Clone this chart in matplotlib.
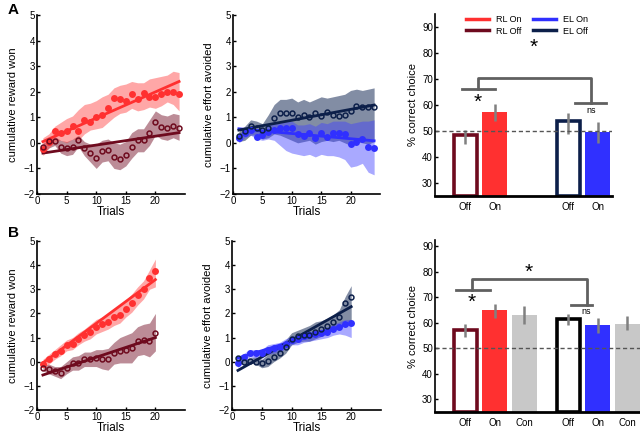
import numpy as np
import matplotlib.pyplot as plt

plt.rcParams['font.family'] = ['Liberation Sans', 'DejaVu Sans']

# colours
c_rl_on = '#ff3030'
c_rl_off = '#6e0a1e'
c_el_on = '#3030ff'
c_el_off = '#0c1f4a'
c_con = '#c8c8c8'
c_err = '#808080'

# ---------------- data: panel A (24 trials) ----------------
trials_a = list(range(1, 25))
a_rl_on = [-0.25, 0.05, 0.45, 0.4, 0.45, 0.65, 0.45, 0.9, 0.83, 1.0, 1.1, 1.37,
           1.75, 1.7, 1.63, 1.9, 1.72, 1.95, 1.8, 1.8, 1.9, 1.97, 2.0, 1.9]
a_rl_on_hi = [0.2, 0.35, 0.65, 0.8, 0.95, 1.05, 1.3, 1.5, 1.55, 1.65, 1.8, 1.9,
              2.15, 2.25, 2.3, 2.4, 2.35, 2.35, 2.5, 2.55, 2.6, 2.65, 2.8, 2.75]
a_rl_on_lo = [-0.5, -0.2, 0.05, 0.1, 0.0, 0.15, 0.1, 0.35, 0.5, 0.55, 0.6, 0.8,
              1.0, 1.15, 1.2, 1.35, 1.25, 1.3, 1.4, 1.35, 1.45, 1.6, 1.5, 1.25]
a_rl_off = [-0.17, 0.07, 0.07, -0.17, -0.2, -0.15, 0.1, -0.2, -0.38, -0.6, -0.33, -0.27,
            -0.55, -0.62, -0.47, -0.17, 0.1, 0.1, 0.37, 0.8, 0.63, 0.57, 0.67, 0.6]
a_rl_off_hi = [0.0, 0.1, 0.25, 0.1, 0.05, 0.15, 0.3, 0.05, -0.05, -0.05, 0.1, 0.15,
               0.0, -0.05, 0.05, 0.4, 0.55, 0.55, 0.9, 1.25, 1.1, 1.05, 1.15, 1.1]
a_rl_off_lo = [-0.4, -0.2, -0.1, -0.4, -0.5, -0.45, -0.15, -0.5, -0.75, -1.0, -0.75, -0.7,
               -1.0, -1.05, -0.9, -0.6, -0.35, -0.35, -0.1, 0.3, 0.15, 0.1, 0.2, 0.1]
a_rl_on_fit = [0.05, 2.4]
a_rl_off_fit = [-0.4, 0.4]

a_el_on = [0.18, 0.37, 0.5, 0.24, 0.3, 0.44, 0.5, 0.57, 0.57, 0.57, 0.33, 0.27,
           0.37, 0.18, 0.4, 0.24, 0.4, 0.37, 0.35, -0.04, 0.05, 0.14, -0.15, -0.19]
a_el_on_hi = [0.35, 0.55, 0.65, 0.55, 0.5, 0.7, 0.75, 0.8, 0.85, 0.85, 0.7, 0.7,
              0.75, 0.65, 0.8, 0.75, 0.85, 0.85, 0.85, 0.75, 0.8, 0.85, 0.85, 0.9]
a_el_on_lo = [0.0, 0.2, 0.3, 0.15, 0.1, 0.15, 0.1, -0.1, -0.3, -0.4, -0.45, -0.5,
              -0.45, -0.55, -0.45, -0.5, -0.5, -0.55, -0.65, -0.95, -0.9, -0.8, -1.15, -1.25]
a_el_off = [0.25, 0.45, 0.65, 0.6, 0.5, 0.6, 0.97, 1.18, 1.17, 1.17, 1.03, 1.08,
            1.0, 1.15, 1.05, 1.2, 1.1, 1.05, 1.1, 1.25, 1.45, 1.4, 1.42, 1.42]
a_el_off_hi = [0.45, 0.65, 0.9, 0.85, 0.75, 1.1, 1.5, 1.7, 1.7, 1.75, 1.6, 1.7,
               1.6, 1.7, 1.8, 1.75, 1.8, 1.85, 1.9, 2.05, 2.1, 2.05, 2.1, 2.15]
a_el_off_lo = [0.05, 0.1, 0.3, 0.3, 0.15, 0.2, 0.35, 0.3, 0.2, 0.1, 0.0, 0.05,
               0.1, -0.05, 0.05, 0.1, 0.05, 0.1, 0.0, -0.1, 0.05, 0.0, -0.05, 0.05]
a_el_on_fit = [0.55, 0.08]
a_el_off_fit = [0.5, 1.48]

# ---------------- data: panel B (20 trials) ----------------
trials_b = list(range(1, 21))
b_rl_on = [-0.1, 0.1, 0.3, 0.45, 0.7, 0.75, 0.95, 1.1, 1.25, 1.45, 1.55, 1.65,
           1.85, 1.95, 2.2, 2.45, 2.75, 3.0, 3.45, 3.75]
b_rl_on_hi = [0.1, 0.3, 0.5, 0.7, 0.9, 1.0, 1.2, 1.35, 1.55, 1.75, 1.85, 1.95,
              2.15, 2.3, 2.55, 2.8, 3.1, 3.35, 3.8, 4.25]
b_rl_on_lo = [-0.25, -0.1, 0.1, 0.25, 0.45, 0.5, 0.7, 0.85, 0.95, 1.15, 1.25, 1.35,
              1.5, 1.6, 1.85, 2.05, 2.35, 2.6, 3.0, 3.1]
b_rl_off = [-0.25, -0.3, -0.4, -0.45, -0.25, -0.05, -0.05, 0.1, 0.1, 0.15, 0.1, 0.1,
            0.35, 0.45, 0.5, 0.55, 0.85, 0.9, 0.85, 1.2]
b_rl_off_hi = [-0.15, -0.1, -0.2, -0.2, 0.0, 0.2, 0.25, 0.4, 0.4, 0.5, 0.5, 0.55,
               0.8, 1.0, 1.1, 1.2, 1.45, 1.55, 1.6, 2.0]
b_rl_off_lo = [-0.35, -0.5, -0.6, -0.7, -0.5, -0.35, -0.35, -0.2, -0.2, -0.2, -0.3, -0.35,
               -0.1, -0.05, -0.05, -0.05, 0.25, 0.3, 0.2, 0.45]
b_rl_on_fit = [-0.05, 3.4]
b_rl_off_fit = [-0.55, 1.0]

b_el_on = [-0.05, 0.2, 0.35, 0.35, 0.35, 0.5, 0.55, 0.6, 0.75, 0.9, 0.95, 1.05,
           1.1, 1.15, 1.2, 1.25, 1.35, 1.45, 1.55, 1.6]
b_el_on_hi = [0.15, 0.35, 0.5, 0.5, 0.5, 0.7, 0.75, 0.8, 0.95, 1.05, 1.1, 1.2,
              1.25, 1.3, 1.35, 1.45, 1.55, 1.65, 1.75, 1.75]
b_el_on_lo = [-0.25, 0.05, 0.2, 0.15, 0.15, 0.3, 0.35, 0.4, 0.55, 0.7, 0.7, 0.8,
              0.85, 0.9, 0.95, 1.0, 1.1, 1.15, 1.1, 1.0]
b_el_off = [0.15, 0.0, 0.05, 0.0, -0.05, 0.05, 0.2, 0.35, 0.6, 0.95, 1.05, 1.1,
            1.1, 1.25, 1.35, 1.5, 1.65, 1.85, 2.45, 2.7]
b_el_off_hi = [0.2, 0.1, 0.15, 0.2, 0.1, 0.3, 0.5, 0.7, 0.9, 1.2, 1.3, 1.4,
               1.5, 1.65, 1.7, 1.8, 1.95, 2.15, 2.7, 3.15]
b_el_off_lo = [0.0, -0.1, -0.05, -0.1, -0.25, -0.2, 0.0, 0.15, 0.35, 0.7, 0.8, 0.85,
               0.85, 0.95, 1.05, 1.15, 1.35, 1.5, 1.7, 1.6]
b_el_on_fit = [0.15, 1.6]
b_el_off_fit = [-0.36, 2.28]

# ---------------- bar data ----------------
bar_pos_a = [0, 1, 3.5, 4.5]
bar_val_a = [48.3, 57.2, 53.8, 49.5]
bar_lo_a = [45.0, 54.0, 49.0, 45.5]
bar_hi_a = [50.5, 60.5, 57.0, 53.5]
bar_lab_a = ['Off', 'On', 'Off', 'On']

bar_pos_b = [0, 1, 2, 3.5, 4.5, 5.5]
bar_val_b = [57.0, 65.0, 63.0, 61.5, 59.0, 59.5]
bar_lo_b = [54.5, 62.0, 59.5, 59.0, 56.0, 57.0]
bar_hi_b = [59.5, 67.5, 66.5, 63.5, 62.0, 62.5]
bar_lab_b = ['Off', 'On', 'Con', 'Off', 'On', 'Con']

W, H = 640, 434
fig = plt.figure(figsize=(6.4, 4.34), dpi=100)


def px_axes(left, top, right, bottom):
    return fig.add_axes([left / W, 1 - bottom / H, (right - left) / W, (bottom - top) / H])


def style(ax):
    ax.spines['top'].set_visible(False)
    ax.spines['right'].set_visible(False)
    for s in ('left', 'bottom'):
        ax.spines[s].set_linewidth(1.2)
    ax.tick_params(direction='in', length=2.5, width=1, labelsize=7, pad=1.5)


def line_panel(ax, x, on, on_hi, on_lo, on_fit, off, off_hi, off_lo, off_fit,
               c_on, c_off, band_on, band_off, a_on, a_off, ylab):
    ax.fill_between(x, off_lo, off_hi, color=band_off, alpha=a_off, lw=0)
    ax.fill_between(x, on_lo, on_hi, color=band_on, alpha=a_on, lw=0)
    ax.plot([x[0], x[-1]], on_fit, color=c_on, lw=2)
    ax.plot([x[0], x[-1]], off_fit, color=c_off, lw=2)
    ax.plot(x, on, 'o', color=c_on, ms=5, mec='none')
    ax.plot(x, off, 'o', mfc='none', mec=c_off, ms=3.5, mew=1.1)
    ax.set_xlim(0, 25)
    ax.set_ylim(-2, 5)
    ax.set_xticks([0, 5, 10, 15, 20])
    ax.set_yticks(range(-2, 6))
    ax.set_xlabel('Trials', fontsize=8.5, labelpad=0)
    ax.set_ylabel(ylab, fontsize=8, labelpad=4)
    style(ax)


# panel A line plots
ax1 = px_axes(37, 15, 185, 194)
line_panel(ax1, trials_a, a_rl_on, a_rl_on_hi, a_rl_on_lo, a_rl_on_fit,
           a_rl_off, a_rl_off_hi, a_rl_off_lo, a_rl_off_fit,
           c_rl_on, c_rl_off, '#ff5050', '#7a1a30', 0.5, 0.5, 'cumulative reward won')
ax2 = px_axes(233, 15, 380, 194)
line_panel(ax2, trials_a, a_el_on, a_el_on_hi, a_el_on_lo, a_el_on_fit,
           a_el_off, a_el_off_hi, a_el_off_lo, a_el_off_fit,
           c_el_on, c_el_off, '#4040ff', '#1c2f5a', 0.45, 0.55, 'cumulative effort avoided')

# panel B line plots
ax4 = px_axes(37, 241, 185, 410)
line_panel(ax4, trials_b, b_rl_on, b_rl_on_hi, b_rl_on_lo, b_rl_on_fit,
           b_rl_off, b_rl_off_hi, b_rl_off_lo, b_rl_off_fit,
           c_rl_on, c_rl_off, '#ff5050', '#7a1a30', 0.5, 0.5, 'cumulative reward won')
ax5 = px_axes(232, 241, 381, 410)
line_panel(ax5, trials_b, b_el_on, b_el_on_hi, b_el_on_lo, b_el_on_fit,
           b_el_off, b_el_off_hi, b_el_off_lo, b_el_off_fit,
           c_el_on, c_el_off, '#4040ff', '#1c2f5a', 0.45, 0.55, 'cumulative effort avoided')


def bar_panel(ax, pos, vals, lo, hi, labs, colors, filled, ytop):
    for p, v, c, f in zip(pos, vals, colors, filled):
        if f:
            ax.bar(p, v - 25, bottom=25, width=0.85, color=c, lw=0)
        else:
            ax.bar(p, v - 25, bottom=25, width=0.78, facecolor='white', edgecolor=c, lw=2.6)
    ax.vlines(pos, lo, hi, color=c_err, lw=1.8)
    ax.axhline(50, color='#555555', ls='--', lw=1, dashes=(3, 2))
    ax.set_ylim(25, ytop)
    ax.set_yticks(range(30, 100, 10))
    ax.set_xticks(pos)
    ax.set_xticklabels(labs, fontsize=11)
    ax.set_ylabel('% correct choice', fontsize=8, labelpad=3)
    style(ax)
    ax.spines['bottom'].set_linewidth(2)
    ax.tick_params(axis='x', length=0, pad=4)


ax3 = px_axes(435, 14, 612, 196)
bar_panel(ax3, bar_pos_a, bar_val_a, bar_lo_a, bar_hi_a, bar_lab_a,
          [c_rl_off, c_rl_on, c_el_off, c_el_on], [False, True, False, True], 95)
ax3.set_xlim(-1.02, 4.98)
gc = '#606060'
ax3.plot([-0.12, 1.03], [66.2, 66.2], color=gc, lw=2)
ax3.plot([0.43, 0.43, 4.28, 4.28], [66.2, 70.3, 70.3, 60.9], color=gc, lw=2)
ax3.plot([3.71, 4.79], [60.9, 60.9], color=gc, lw=2)
ax3.text(2.32, 82.0, '*', fontsize=15, ha='center', va='center')
ax3.text(0.43, 61.0, '*', fontsize=15, ha='center', va='center')
ax3.text(4.28, 57.7, 'ns', fontsize=6.5, ha='center', va='center')
h = [plt.Line2D([], [], color=c, lw=2.5) for c in (c_rl_on, c_rl_off, c_el_on, c_el_off)]
ax3.legend(h, ['RL On', 'RL Off', 'EL On', 'EL Off'], ncol=2, frameon=False,
           fontsize=6.5, handlelength=2.6, columnspacing=1.2, labelspacing=0.3,
           loc='upper center', bbox_to_anchor=(0.52, 1.04))

ax6 = px_axes(435, 240, 640, 412)
bar_panel(ax6, bar_pos_b, bar_val_b, bar_lo_b, bar_hi_b, bar_lab_b,
          [c_rl_off, c_rl_on, c_con, 'black', c_el_on, c_con],
          [False, True, True, False, True, True], 92.5)
ax6.set_xlim(-1.02, 5.93)
ax6.plot([-0.32, 0.86], [72.7, 72.7], color=gc, lw=2)
ax6.plot([0.24, 0.24, 4.12, 4.12], [72.7, 77.0, 77.0, 67.1], color=gc, lw=2)
ax6.plot([3.58, 4.31], [67.1, 67.1], color=gc, lw=2)
ax6.text(2.14, 79.8, '*', fontsize=15, ha='center', va='center')
ax6.text(0.24, 68.0, '*', fontsize=15, ha='center', va='center')
ax6.text(4.12, 64.5, 'ns', fontsize=6.5, ha='center', va='center')

fig.text(8 / W, 1 - 10 / H, 'A', fontsize=11, fontweight='bold', va='center')
fig.text(8 / W, 1 - 233 / H, 'B', fontsize=11, fontweight='bold', va='center')

fig.savefig('out.png', dpi=100)
